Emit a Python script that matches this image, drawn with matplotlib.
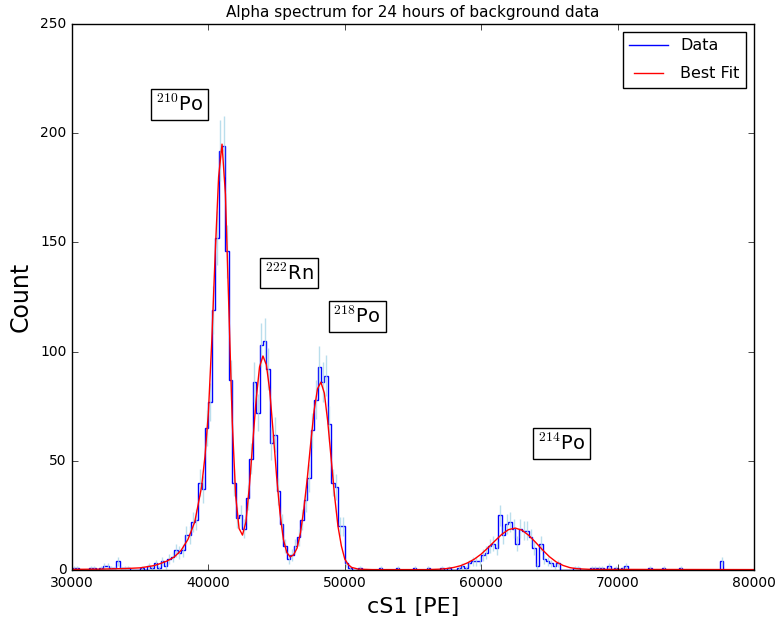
import numpy as np
import matplotlib
matplotlib.use("Agg")
import matplotlib.pyplot as plt

plt.style.use('classic')

# histogram: 200 bins of 250 PE from 30000 to 80000
edges = np.arange(30000, 80001, 250)
counts = np.zeros(200)
counts[0:84] = [1, 1, 0, 0, 0, 1, 1, 0, 1, 2, 2, 1, 1, 4, 1, 1, 1, 0, 0, 0,
                1, 0, 2, 1, 3, 1, 4, 2, 5, 6, 9, 8, 9, 16, 16, 22,
                23, 40, 37, 65, 77, 119, 152, 192, 194, 146, 87, 40,
                24, 25, 19, 33, 51, 86, 72, 103, 105, 92, 58, 62,
                36, 21, 11, 5, 7, 11, 15, 23, 32, 42, 64, 78,
                93, 86, 89, 67, 40, 38, 20, 20, 3, 1, 0, 0]
counts[112:144] = [0, 1, 2, 1, 3, 4, 4, 4, 7, 8, 11, 12, 10, 25, 16, 21,
                   22, 19, 12, 19, 18, 18, 15, 10, 2, 12, 5, 4, 3, 2, 3, 0]
sparse_bins = [84, 90, 95, 100, 104, 108, 110, 147, 148, 152, 153, 154, 155,
               157, 159, 161, 162, 169, 173, 178, 190]
sparse_vals = [1, 1, 1, 1, 1, 1, 1, 1, 1, 1, 1, 1, 1,
               2, 1, 1, 2, 1, 1, 1, 4]
counts[sparse_bins] = sparse_vals

# best fit curve
fit_x = [30000, 32000, 34000, 35000, 36000, 36500, 37000, 37500, 38000, 38500,
         39000, 39500, 39750, 40000, 40250, 40500, 40750, 41000, 41250, 41500,
         41750, 42000, 42250, 42500, 42750, 43000, 43250, 43500, 43750, 44000,
         44250, 44500, 44750, 45000, 45250, 45500, 45750, 46000, 46250, 46500,
         46750, 47000, 47250, 47500, 47750, 48000, 48250, 48500, 48750, 49000,
         49250, 49500, 49750, 50000, 50250, 50500, 51000, 52000, 56000, 57000,
         57500, 58000, 58500, 59000, 59500, 60000, 60500, 61000, 61500, 62000,
         62500, 63000, 63500, 64000, 64500, 65000, 65500, 66000, 66500, 67000,
         68000, 80000]
fit_y = [0.3, 0.4, 0.7, 1.0, 2.0, 3.0, 4.2, 6.0, 9.0, 14,
         22, 38, 52, 72, 105, 145, 180, 195, 172, 120,
         68, 34, 19, 16, 22, 38, 58, 78, 93, 98,
         94, 82, 63, 43, 26, 14, 8, 6, 7, 10,
         17, 28, 42, 58, 73, 83, 86, 81, 68, 51,
         34, 20, 11, 5, 2.5, 1.2, 0.4, 0.2, 0.2, 0.4,
         0.7, 1.2, 2.0, 3.3, 5.0, 7.3, 10.2, 13.3, 16.3, 18.5,
         19.2, 18.2, 15.8, 12.6, 9.2, 6.1, 3.7, 2.1, 1.1, 0.6,
         0.3, 0.2]

labels = [r'$^{210}$Po', r'$^{222}$Rn', r'$^{218}$Po', r'$^{214}$Po']
label_x = [37900, 45900, 50900, 65900]
label_y = [213, 136, 116, 58]

fig = plt.figure(figsize=(7.78, 6.24), dpi=100, facecolor='white')
ax = fig.add_axes([0.0925, 0.0865, 0.8767, 0.875])

centers = 0.5 * (edges[:-1] + edges[1:])
ax.errorbar(centers, counts, yerr=np.sqrt(counts), fmt='none',
            ecolor='#a9d6e8', elinewidth=1, capsize=0, alpha=0.8)
ax.stairs(counts, edges, color='b', label='Data', linewidth=1)
ax.plot(fit_x, fit_y, color='r', linewidth=1, label='Best Fit')

for t, x, y in zip(labels, label_x, label_y):
    ax.text(x, y, t, fontsize=14, ha='center', va='center',
            bbox=dict(facecolor='white', edgecolor='black', pad=3.5))

ax.set_xlim(30000, 80000)
ax.set_ylim(0, 250)
ax.set_xticks(np.arange(30000, 80001, 10000))
ax.set_yticks(np.arange(0, 251, 50))
ax.tick_params(labelsize=10)
ax.set_xlabel('cS1 [PE]', fontsize=16)
ax.set_ylabel('Count', fontsize=17)
ax.set_title('Alpha spectrum for 24 hours of background data', fontsize=11)
ax.legend(loc='upper right', fontsize=11.5, handlelength=2.4, labelspacing=0.8)

fig.savefig('out.png', dpi=100, facecolor='white')
